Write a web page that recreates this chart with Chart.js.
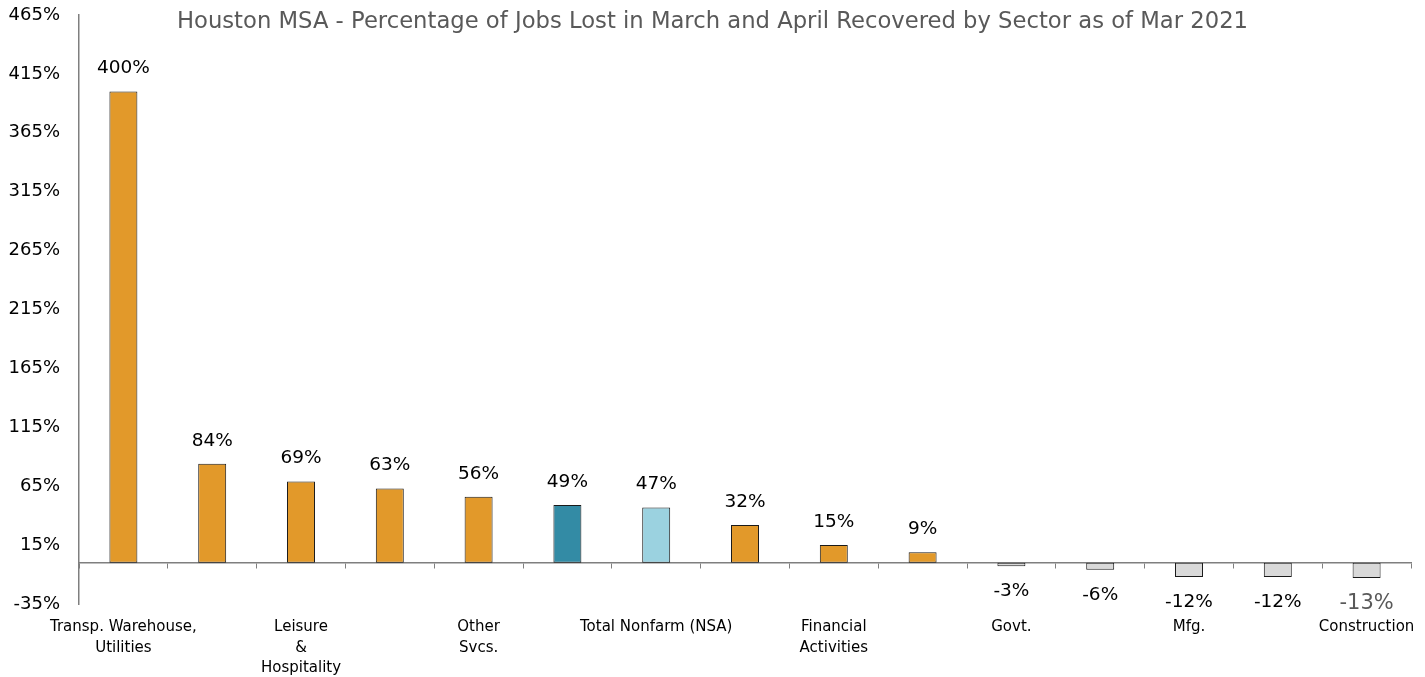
<!DOCTYPE html>
<html>
<head>
<meta charset="utf-8">
<script src="https://cdn.jsdelivr.net/npm/chart.js@4/dist/chart.umd.min.js"></script>
<style>
  html, body { margin: 0; padding: 0; background: #fff; }
  #wrap { width: 1425px; height: 677px; }
</style>
</head>
<body>
<div id="wrap"><canvas id="c" width="1425" height="677"></canvas></div>
<script>
// Sectors (only every other one carries a visible axis label)
const categories = [
  ['Transp. Warehouse,', 'Utilities'], '', ['Leisure', '&', 'Hospitality'], '',
  ['Other', 'Svcs.'], '', 'Total Nonfarm (NSA)', '', ['Financial', 'Activities'], '',
  'Govt.', '', 'Mfg.', '', 'Construction'
];
// Share of March/April job losses recovered, percent
const recovered = [400, 84, 69, 63, 56, 49, 47, 32, 15, 9, -3, -6, -12, -12, -13];
const yTicks = [-35, 15, 65, 115, 165, 215, 265, 315, 365, 415, 465];

const ORANGE = '#E2992A', TEAL = '#338BA5', LIGHT = '#9BD2E0', GREY = '#D9D9D9';
const barColors = recovered.map((v, i) => i === 5 ? TEAL : i === 6 ? LIGHT : v < 0 ? GREY : ORANGE);

const FONT = '"DejaVu Sans", sans-serif';

const valueLabels = {
  id: 'valueLabels',
  afterDatasetsDraw(chart) {
    const ctx = chart.ctx;
    const meta = chart.getDatasetMeta(0);
    ctx.save();
    ctx.textAlign = 'center';
    ctx.textBaseline = 'middle';
    meta.data.forEach((bar, i) => {
      const v = recovered[i];
      const last = i === recovered.length - 1;
      ctx.font = (last ? '21px ' : '18.5px ') + FONT;
      ctx.fillStyle = last ? '#595959' : '#000';
      const y = v >= 0 ? bar.y - 23 : bar.y + 25;
      ctx.fillText(v + '%', bar.x, y);
    });
    ctx.restore();
  }
};

const heading = {
  id: 'heading',
  afterDraw(chart) {
    const ctx = chart.ctx;
    ctx.save();
    ctx.font = '22.7px ' + FONT;
    ctx.fillStyle = '#595959';
    ctx.textAlign = 'center';
    ctx.textBaseline = 'middle';
    ctx.fillText('Houston MSA - Percentage of Jobs Lost in March and April Recovered by Sector as of Mar 2021', chart.width / 2, 22);
    ctx.restore();
  }
};

new Chart(document.getElementById('c'), {
  type: 'bar',
  data: {
    labels: categories,
    datasets: [{
      data: recovered,
      backgroundColor: barColors,
      borderColor: '#1a1a1a',
      borderWidth: 1,
      borderSkipped: false,
      barPercentage: 0.315,
      categoryPercentage: 1
    }]
  },
  options: {
    responsive: false,
    animation: false,
    events: [],
    layout: { padding: { top: 15, right: 14, bottom: 0, left: 0 } },
    plugins: { legend: { display: false }, tooltip: { enabled: false } },
    scales: {
      x: {
        position: 'bottom',
        grid: { display: false },
        border: { display: false },
        ticks: {
          autoSkip: false,
          maxRotation: 0,
          padding: 5,
          color: '#000',
          font: { family: FONT, size: 15, lineHeight: 1.37 }
        },
        afterFit(s) { s.height = 73; s.paddingLeft = 0; s.paddingRight = 0; }
      },
      xAxisLine: {
        type: 'category',
        position: { y: 0 },
        grid: { display: true, offset: true, drawOnChartArea: false, drawTicks: true, tickLength: 5, color: '#7f7f7f' },
        border: { display: true, color: '#7f7f7f', width: 1.5 },
        ticks: { display: false },
        afterFit(s) { s.paddingLeft = 0; s.paddingRight = 0; s.paddingTop = 0; s.paddingBottom = 0; }
      },
      y: {
        min: -35,
        max: 465,
        afterBuildTicks(s) { s.ticks = yTicks.map(v => ({ value: v })); },
        grid: { display: false, drawTicks: false },
        border: { display: true, color: '#7f7f7f', width: 1.5 },
        ticks: {
          padding: 19,
          color: '#000',
          font: { family: FONT, size: 18 },
          callback: v => v + '%'
        },
        afterFit(s) { s.width = 79; s.paddingTop = 0; s.paddingBottom = 0; }
      }
    }
  },
  plugins: [valueLabels, heading]
});
</script>
</body>
</html>
